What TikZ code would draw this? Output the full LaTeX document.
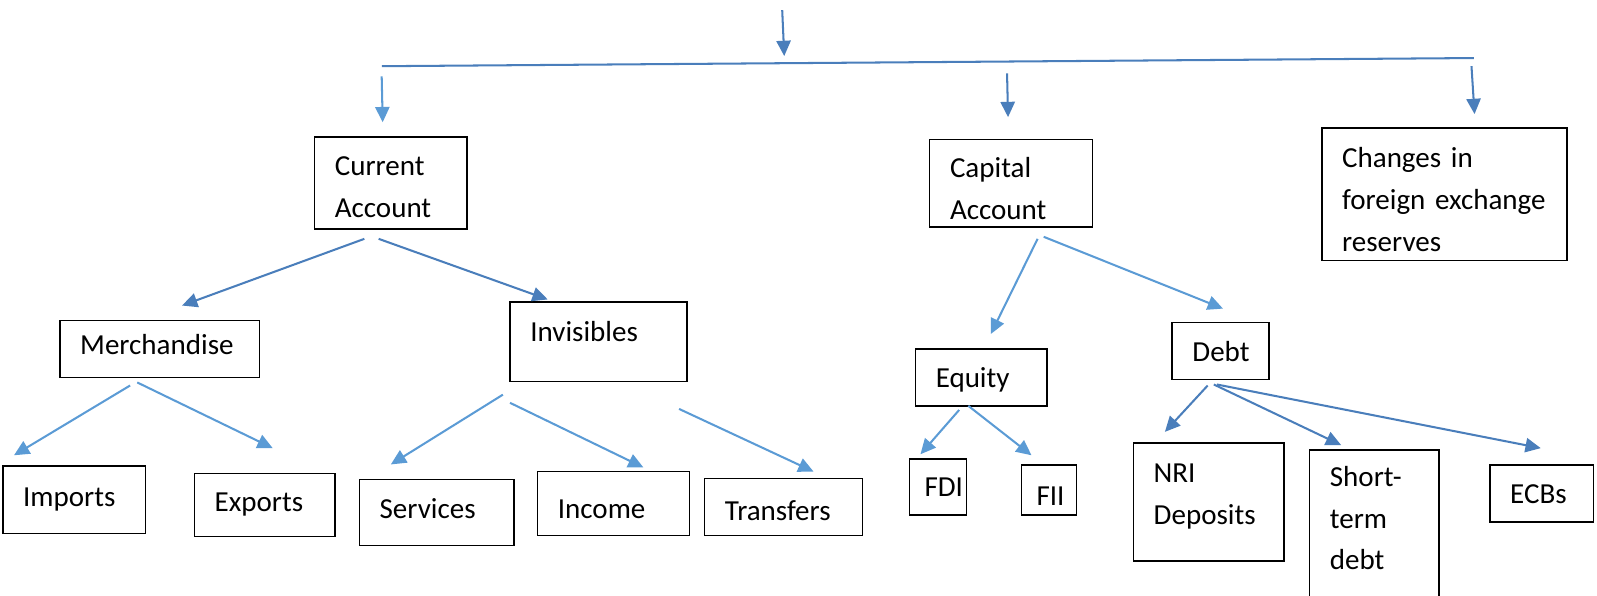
\documentclass[tikz,border=0pt]{standalone}
\usepackage{fontspec}
\setmainfont{Carlito}
\usetikzlibrary{arrows.meta,calc}
\definecolor{lblue}{HTML}{5B9BD5}
\definecolor{dblue}{HTML}{4A7EBB}
\tikzset{
  box/.style={draw,line width=1.5pt,anchor=north west,align=left,inner xsep=20pt,inner ysep=0pt,font=\fontsize{28.5}{41}\selectfont},
  lt/.style={draw=lblue,line width=2pt,-{Triangle[length=15pt,width=14pt]}},
}
\begin{document}
\begin{tikzpicture}[x=1pt,y=-1pt]
\useasboundingbox (0,0) rectangle (1568,585);
\node[box,text width=110pt,minimum height=90pt,text height=27pt] (cur) at (308,134) {Current\\Account};
\node[box,text width=120pt,minimum height=86pt,text height=30pt] (cap) at (912,136) {Capital\\Account};
\node[box,text width=201pt,minimum height=130pt,text height=30pt] (chg) at (1297,125) {Changes in\\foreign exchange\\reserves};
\node[box,text width=156pt,minimum height=56pt,text depth=10pt] (mer) at (58,314) {Merchandise};
\node[box,text width=134pt,minimum height=78pt,text depth=20pt] (inv) at (500,296) {Invisibles};
\node[box,text width=89pt,minimum height=56pt,text height=24pt] (equ) at (898,342) {Equity};
\node[box,text width=55pt,minimum height=56pt] (debt) at (1150,316) {Debt};
\node[box,text width=100pt,minimum height=66pt] (imp) at (2,457) {Imports};
\node[box,text width=98pt,minimum height=62pt] (exp) at (190,464) {Exports};
\node[box,text width=112pt,minimum height=65pt,text depth=8pt] (ser) at (352,470) {Services};
\node[box,text width=109pt,minimum height=63pt,text height=30pt] (inc) at (527,462) {Income};
\node[box,text width=115pt,minimum height=56pt,text height=26pt] (tra) at (691,469) {Transfers};
\node[box,text width=26pt,minimum height=55pt,inner xsep=15pt] (fdi) at (892,450) {FDI};
\node[box,text width=24pt,minimum height=49pt,inner xsep=15pt,text height=30pt] (fii) at (1002,456) {FII};
\node[box,text width=108pt,minimum height=116pt,text depth=56pt] (nri) at (1112,434) {NRI\\Deposits};
\node[box,text width=87pt,minimum height=146pt,text depth=94pt] (sht) at (1285,441) {Short-\\term\\debt};
\node[box,text width=62pt,minimum height=56pt] (ecb) at (1462,456) {ECBs};
\coordinate (topA) at (768,10);
\coordinate (topB) at (770,55);
\coordinate (barL) at (375,65);
\coordinate (barR) at (1447,57);
\draw[lt,draw=dblue] (topA) -- (topB);
\draw[dblue,line width=2pt] (barL) -- (barR);
\draw[lt] ($(cur.north)+(-9,-59)$) -- ($(cur.north)+(-8,-14)$);
\draw[lt,draw=dblue] ($(cap.north)+(-4,-64)$) -- ($(cap.north)+(-3,-21)$);
\draw[lt,draw=dblue] ($(chg.north)+(26.5,-60)$) -- ($(chg.north)+(29.5,-13)$);
\foreach \a/\p/\b/\q/\c in {cur/{-26,9}/mer/{22,-14}/dblue, cur/{-12,9}/inv/{-50,-2}/dblue,
    mer/{-29,7}/imp/{-59,-10}/lblue, mer/{-22,4}/exp/{8,-24}/lblue,
    inv/{-94,12}/ser/{-45,-14}/lblue, inv/{-87,20}/inc/{29.5,-3}/lblue, inv/{79,26}/tra/{29.5,-6}/lblue,
    cap/{26,11}/equ/{9.5,-14}/lblue, cap/{32,9}/debt/{2.5,-13}/lblue,
    equ/{-21.5,3}/fdi/{-17,-4}/lblue, equ/{-12.5,-1}/fii/{-17,-9}/lblue,
    debt/{-12.5,5}/nri/{-43,-10}/dblue, debt/{-6.5,4}/sht/{-32.5,-4}/dblue, debt/{-3.5,4}/ecb/{-1,-16}/dblue}
  \draw[lt,draw=\c] ($(\a.south)+(\p)$) -- ($(\b.north)+(\q)$);
\end{tikzpicture}
\end{document}
